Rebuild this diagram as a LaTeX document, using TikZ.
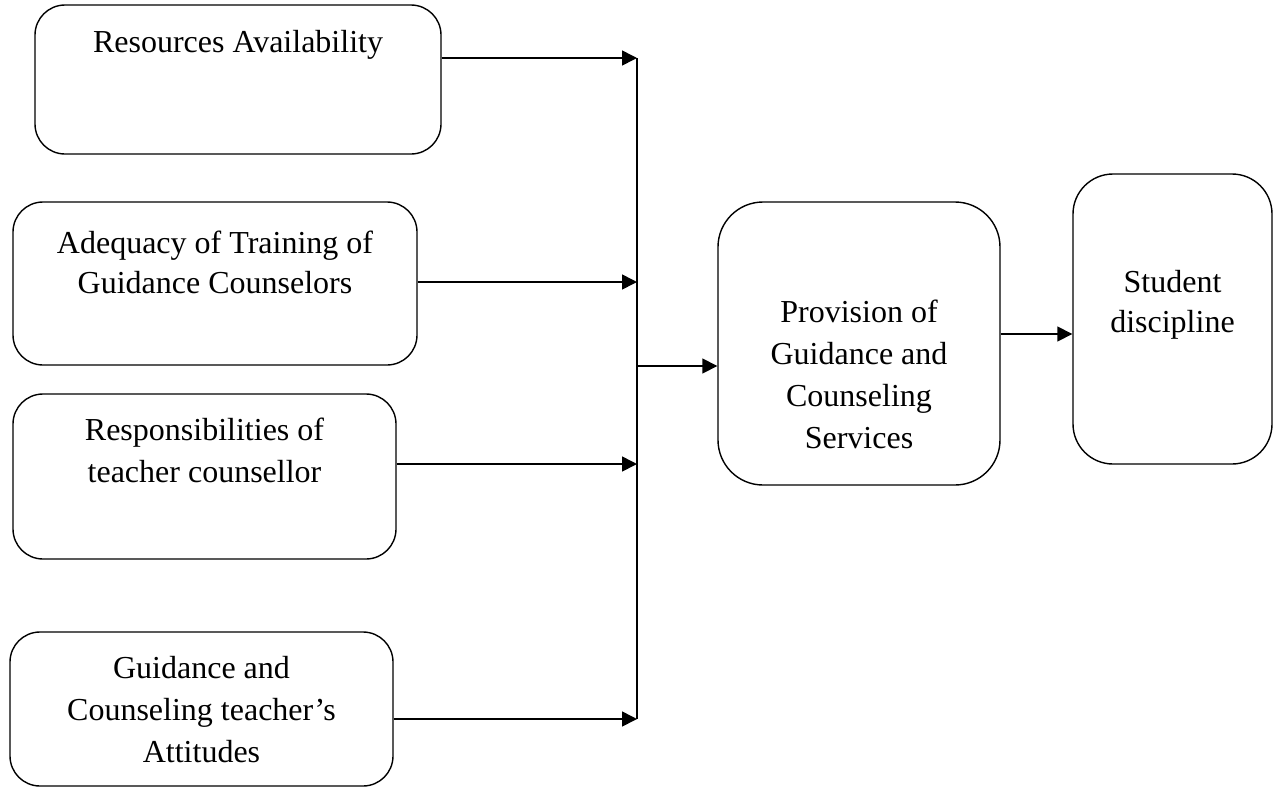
\documentclass[tikz,border=0pt]{standalone}
\usepackage{fontspec}
\setmainfont{Liberation Serif}
\usetikzlibrary{arrows.meta}
\begin{document}
\begin{tikzpicture}[x=1pt,y=-1pt,
  box/.style={draw,line width=1.4pt,inner sep=0pt},
  lbl/.style={inner sep=0pt,align=center,anchor=north,font=\fontsize{32}{40}\selectfont},
  wide/.style={font=\fontsize{32}{42}\selectfont},
  conn/.style={line width=1.6pt},
  arr/.style={conn,-{Triangle[length=15pt,width=15pt]}}]
\useasboundingbox (0,0) rectangle (1280,788);
% boxes
\node[box,rounded corners=30pt,minimum width=406pt,minimum height=149pt] (b1) at (238,79.5) {};
\node[box,rounded corners=30pt,minimum width=404pt,minimum height=163pt] (b2) at (215,283.5) {};
\node[box,rounded corners=30pt,minimum width=383pt,minimum height=165pt] (b3) at (204.5,476.5) {};
\node[box,rounded corners=30pt,minimum width=383pt,minimum height=154pt] (b4) at (201.5,709) {};
\node[box,rounded corners=45pt,minimum width=282pt,minimum height=283pt] (prov) at (859,343.5) {};
\node[box,rounded corners=40pt,minimum width=199pt,minimum height=290pt] (stud) at (1172.5,319) {};
% labels
\node[lbl] (t1) at (238,30) {Resources Availability};
\node[lbl] (t2) at (215,231) {Adequacy of Training of\\Guidance Counselors};
\node[lbl,wide] (t3) at (204.5,418) {Responsibilities of\\teacher counsellor};
\node[lbl,wide] (t4) at (201.5,656) {Guidance and\\Counseling teacher’s\\Attitudes};
\node[lbl,wide] (t5) at (859,300) {Provision of\\Guidance and\\Counseling\\Services};
\node[lbl] (t6) at (1172.5,270) {Student\\discipline};
% bus coordinates
\coordinate (j1) at (637,58);
\coordinate (j2) at (637,282);
\coordinate (j3) at (637,464);
\coordinate (j4) at (637,719);
\coordinate (jm) at (637,366);
\coordinate (pk) at (1000,334);
% connectors
\draw[conn] (j1) -- (j4);
\draw[arr] (b1.east |- j1) -- (j1);
\draw[arr] (b2.east |- j2) -- (j2);
\draw[arr] (b3.east |- j3) -- (j3);
\draw[arr] (b4.east |- j4) -- (j4);
\draw[arr] (jm) -- (prov.west |- jm);
\draw[arr] (prov.east |- pk) -- (stud.west |- pk);
\end{tikzpicture}
\end{document}
